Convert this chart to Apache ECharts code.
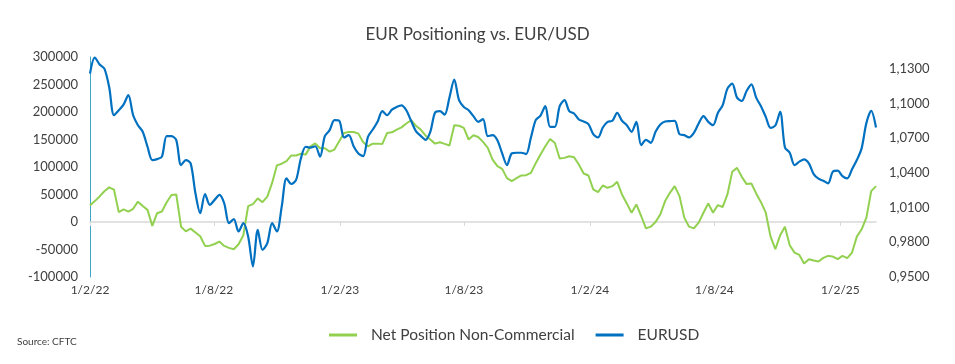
<!DOCTYPE html>
<html>
<head>
<meta charset="utf-8">
<script src="https://cdn.jsdelivr.net/npm/echarts@6/dist/echarts.min.js"></script>
<style>
html,body{margin:0;padding:0;background:#fff;}
#chart{width:955px;height:364px;}
</style>
</head>
<body>
<div id="chart"></div>
<script>
// Weekly CFTC report dates start (Tuesday 1 Feb 2022), one point per week
const startDate = Date.UTC(2022, 1, 1);
const WEEK = 7 * 24 * 3600 * 1000;

const netPosition = [
  30000, 38000, 46500, 56000, 63000, 59000, 18000, 23000, 19000, 24000,
  37000, 29000, 22000, -7000, 16000, 19000, 36000, 49000, 50000, -8500,
  -17000, -12000, -19000, -26000, -43500, -43000, -40000, -35500, -43500, -47000,
  -49500, -40500, -24000, 29000, 32600, 43000, 36000, 46000, 71000, 103000,
  106000, 110500, 121000, 121000, 124000, 122500, 137500, 143000, 134000, 134000,
  128000, 131700, 146800, 162000, 163700, 163700, 160700, 145000, 137700, 142500,
  142500, 142000, 162000, 163000, 168000, 172000, 179000, 185000, 175000, 168000,
  157300, 150000, 142500, 145000, 142000, 139000, 176000, 175000, 171000, 150000,
  157600, 154600, 145600, 134700, 113500, 101500, 96600, 79700, 74300, 79700,
  84600, 85200, 89400, 107000, 122600, 137700, 151000, 143700, 115400, 116600,
  119600, 117800, 104500, 88200, 84600, 59200, 54400, 66400, 62200, 65200,
  73100, 50100, 33800, 16900, 32000, 10900, -11500, -8500, 0, 13900,
  38000, 53000, 65200, 47100, 7900, -8500, -11500, -1200, 16900, 33800,
  16900, 30800, 27200, 50100, 91200, 98400, 82100, 68900, 70100, 52000,
  36000, 16900, -26600, -49500, -24200, -8500, -42300, -55600, -59800, -75500,
  -67600, -70000, -71900, -65200, -61600, -62800, -67600, -61600, -65800, -55600,
  -26600, -13300, 7900, 56200, 65200
];

const eurusd = [
  1.1256, 1.1394, 1.1336, 1.1299, 1.1141, 1.0897, 1.0940, 1.0989, 1.1070, 1.0897,
  1.0811, 1.0754, 1.0625, 1.0510, 1.0518, 1.0539, 1.0717, 1.0717, 1.0682, 1.0467,
  1.0510, 1.0481, 1.0223, 1.0051, 1.0217, 1.0123, 1.0166, 1.0209, 1.0137, 0.9965,
  1.0000, 0.9893, 0.9965, 0.9850, 0.9592, 0.9907, 0.9735, 0.9793, 0.9965, 0.9893,
  1.0108, 1.0352, 1.0303, 1.0338, 1.0524, 1.0625, 1.0617, 1.0629, 1.0539, 1.0717,
  1.0768, 1.0854, 1.0849, 1.0705, 1.0725, 1.0630, 1.0567, 1.0544, 1.0711, 1.0774,
  1.0840, 1.0932, 1.0897, 1.0946, 1.0969, 1.0983, 1.0940, 1.0849, 1.0760, 1.0719,
  1.0685, 1.0754, 1.0920, 1.0932, 1.0903, 1.1050, 1.1204, 1.1027, 1.0969, 1.0940,
  1.0889, 1.0840, 1.0863, 1.0717, 1.0725, 1.0682, 1.0567, 1.0467, 1.0567, 1.0573,
  1.0573, 1.0562, 1.0705, 1.0855, 1.0894, 1.0975, 1.0797, 1.0797, 1.0975, 1.1027,
  1.0932, 1.0912, 1.0860, 1.0843, 1.0820, 1.0734, 1.0705, 1.0791, 1.0840, 1.0849,
  1.0917, 1.0849, 1.0811, 1.0754, 1.0840, 1.0639, 1.0685, 1.0659, 1.0754, 1.0817,
  1.0843, 1.0846, 1.0849, 1.0734, 1.0725, 1.0705, 1.0745, 1.0826, 1.0889, 1.0840,
  1.0811, 1.0917, 1.0983, 1.1127, 1.1170, 1.1049, 1.1021, 1.1107, 1.1164, 1.1049,
  1.0975, 1.0883, 1.0788, 1.0808, 1.0926, 1.0619, 1.0573, 1.0467, 1.0496, 1.0516,
  1.0481, 1.0389, 1.0349, 1.0332, 1.0309, 1.0410, 1.0418, 1.0372, 1.0352, 1.0430,
  1.0510, 1.0611, 1.0831, 1.0935, 1.0791
];

const tickDates = ['2022-02-01','2022-08-01','2023-02-01','2023-08-01','2024-02-01','2024-08-01','2025-02-01'];
const tickLabels = ['1/2/22','1/8/22','1/2/23','1/8/23','1/2/24','1/8/24','1/2/25'];

const leftTicks = { min: -100000, max: 300000, interval: 50000 };
const rightTicks = { min: 0.95, max: 1.14, interval: 0.03 };

const dates = netPosition.map((_, i) => startDate + i * WEEK);
const tickTimes = tickDates.map(d => Date.parse(d + 'T00:00:00Z'));
const labelByTime = {};
tickTimes.forEach((t, i) => { labelByTime[t] = tickLabels[i]; });

const FONT = 'Lato, "Open Sans", sans-serif';

const chart = echarts.init(document.getElementById('chart'), null, { renderer: 'canvas' });
chart.setOption({
  animation: false,
  backgroundColor: '#ffffff',
  title: {
    text: 'EUR Positioning vs. EUR/USD',
    left: 'center',
    top: 21,
    textStyle: { fontFamily: FONT, fontSize: 17, fontWeight: 'normal', color: '#404040' }
  },
  graphic: [{
    type: 'text',
    left: 17,
    top: 337,
    style: { text: 'Source: CFTC', fontFamily: FONT, fontSize: 10, fill: '#404040' }
  }],
  legend: {
    top: 322,
    left: 324,
    itemWidth: 28,
    itemHeight: 3,
    itemGap: 21,
    icon: 'rect',
    textStyle: { fontFamily: FONT, fontSize: 15.5, color: '#404040', padding: [0, 0, 0, 9] },
    data: ['Net Position Non-Commercial', 'EURUSD']
  },
  grid: { left: 90, right: 79, top: 57, bottom: 87, containLabel: false },
  xAxis: {
    type: 'value',
    min: dates[0],
    max: dates[dates.length - 1],
    splitLine: { show: false },
    axisLine: { show: true, onZero: true, lineStyle: { color: '#d9d9d9', width: 1.5 } },
    axisTick: { show: true, length: 4, customValues: tickTimes, lineStyle: { color: '#d9d9d9' } },
    axisLabel: {
      customValues: tickTimes,
      margin: 7,
      fontFamily: FONT, fontSize: 12, color: '#404040',
      formatter: v => labelByTime[v] || ''
    }
  },
  yAxis: [{
    type: 'value',
    position: 'left',
    min: leftTicks.min, max: leftTicks.max, interval: leftTicks.interval,
    splitLine: { show: false },
    axisLine: { show: true, lineStyle: { color: '#3fa6c8', width: 1 } },
    axisTick: { show: false },
    axisLabel: { fontFamily: FONT, fontSize: 13, color: '#404040', margin: 12, formatter: v => String(v) }
  }, {
    type: 'value',
    position: 'right',
    min: rightTicks.min, max: rightTicks.max, interval: rightTicks.interval,
    splitLine: { show: false },
    axisLine: { show: false },
    axisTick: { show: false },
    axisLabel: {
      showMaxLabel: false,
      fontFamily: FONT, fontSize: 13, color: '#404040', margin: 13,
      formatter: v => v.toFixed(4).replace('.', ',')
    }
  }],
  series: [{
    name: 'Net Position Non-Commercial',
    type: 'line',
    yAxisIndex: 0,
    data: dates.map((d, i) => [d, netPosition[i]]),
    showSymbol: false,
    lineStyle: { color: '#92d050', width: 2 },
    itemStyle: { color: '#92d050' }
  }, {
    name: 'EURUSD',
    type: 'line',
    yAxisIndex: 1,
    smooth: 0.3,
    data: dates.map((d, i) => [d, eurusd[i]]),
    showSymbol: false,
    lineStyle: { color: '#0070c0', width: 2.2 },
    itemStyle: { color: '#0070c0' }
  }]
});
</script>
</body>
</html>
